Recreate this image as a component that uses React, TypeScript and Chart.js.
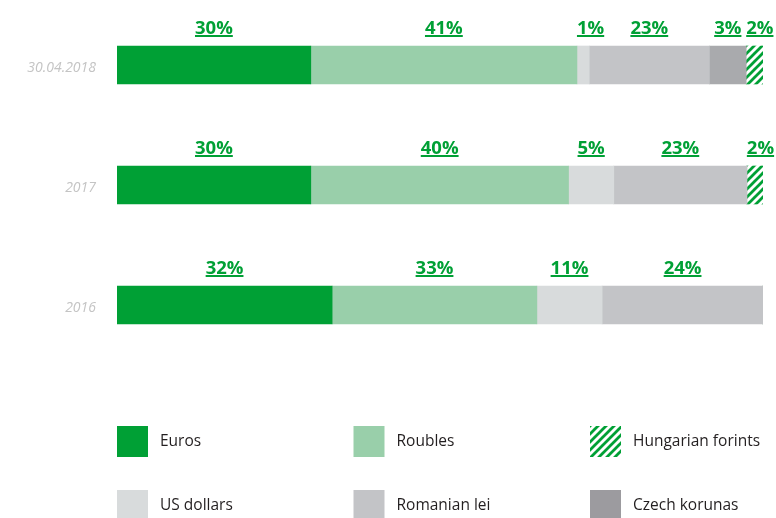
import React, { useEffect, useRef } from "react";
import { Chart, registerables } from "chart.js";

Chart.register(...registerables);

// ---- data ----
const categories = ["30.04.2018", "2017", "2016"];
const seriesNames = ["Euros", "Roubles", "US dollars", "Romanian lei", "Czech korunas", "Hungarian forints"];
// segment lengths as drawn (share of bar width, %)
const euros = [30.0, 30.0, 33.3];
const roubles = [41.2, 39.9, 31.7];
const usDollars = [1.9, 7.0, 10.1];
const romanianLei = [18.6, 20.6, 24.9];
const czechKorunas = [5.7, 0, 0];
const hungarianForints = [2.6, 2.5, 0];
// printed labels (%)
const eurosLabels = [30, 30, 32];
const roublesLabels = [41, 40, 33];
const usDollarsLabels = [1, 5, 11];
const romanianLeiLabels = [23, 23, 24];
const czechKorunasLabels: (number | null)[] = [3, null, null];
const hungarianForintsLabels: (number | null)[] = [2, 2, null];

const GREEN = "#00a035";
const colors = ["#00a035", "#99cfaa", "#d8dbdc", "#c3c4c7", "#a9aaad", "hatch"];
const legendColors = ["#00a035", "#99cfaa", "#d8dbdc", "#c3c4c7", "#9c9b9f", "hatch"];
const legendLayout = [[0, 1, 5], [2, 3, 4]];

function makeHatch(): CanvasPattern | string {
  const c = document.createElement("canvas");
  const s = 8;
  c.width = s;
  c.height = s;
  const g = c.getContext("2d");
  if (!g) return GREEN;
  g.fillStyle = "#ffffff";
  g.fillRect(0, 0, s, s);
  g.strokeStyle = GREEN;
  g.lineWidth = 2.8;
  g.beginPath();
  g.moveTo(-2, s + 2);
  g.lineTo(s + 2, -2);
  g.moveTo(-2, 2);
  g.lineTo(2, -2);
  g.moveTo(s - 2, s + 2);
  g.lineTo(s + 2, s - 2);
  g.stroke();
  const p = g.createPattern(c, "repeat");
  return p || GREEN;
}

export default function App() {
  const ref = useRef<HTMLCanvasElement | null>(null);

  useEffect(() => {
    if (!ref.current) return;
    const hatch = makeHatch();
    const values = [euros, roubles, usDollars, romanianLei, czechKorunas, hungarianForints];
    const labelSets = [eurosLabels, roublesLabels, usDollarsLabels, romanianLeiLabels, czechKorunasLabels, hungarianForintsLabels];
    const fill = (c: string) => (c === "hatch" ? hatch : c);

    const labelPlugin = {
      id: "segLabels",
      afterDatasetsDraw(chart: any) {
        const ctx = chart.ctx;
        ctx.save();
        ctx.font = "bold 18.5px 'Open Sans'";
        ctx.fillStyle = GREEN;
        ctx.textAlign = "center";
        ctx.textBaseline = "alphabetic";
        chart.data.datasets.forEach((_: any, i: number) => {
          const meta = chart.getDatasetMeta(i);
          meta.data.forEach((bar: any, j: number) => {
            const v = labelSets[i][j];
            if (v === null || v === undefined) return;
            const p = bar.getProps(["x", "base", "y", "height"], true);
            const left = Math.min(p.x, p.base);
            const right = Math.max(p.x, p.base);
            const text = v + "%";
            const tw = ctx.measureText(text).width;
            const tx = tw > right - left ? left + tw / 2 : (left + right) / 2;
            const top = p.y - p.height / 2;
            ctx.fillText(text, tx, top - 12.5);
            ctx.fillRect(tx - tw / 2, top - 11, tw, 2);
          });
        });
        ctx.restore();
      },
    };

    const legendPlugin = {
      id: "gridLegend",
      afterDraw(chart: any) {
        const ctx = chart.ctx;
        const left = chart.chartArea.left;
        const colW = 236.5;
        const rowY = [426, 490];
        const sq = 31;
        ctx.save();
        ctx.font = "15.5px 'Open Sans'";
        ctx.fillStyle = "#231f20";
        ctx.textBaseline = "middle";
        legendLayout.forEach((row, r) => {
          row.forEach((di, c) => {
            const x = left + c * colW;
            const y = rowY[r];
            ctx.fillStyle = fill(legendColors[di]) as any;
            ctx.fillRect(x, y, sq, sq);
            ctx.fillStyle = "#231f20";
            ctx.fillText(chart.data.datasets[di].label, x + 43, y + sq / 2);
          });
        });
        ctx.restore();
      },
    };

    const chart = new Chart(ref.current, {
      type: "bar",
      data: {
        labels: categories,
        datasets: seriesNames.map((name, i) => ({
          label: name,
          data: values[i],
          backgroundColor: fill(colors[i]) as any,
          borderWidth: 0,
          barThickness: 38,
        })),
      },
      options: {
        indexAxis: "y",
        animation: false,
        responsive: false,
        layout: { padding: { left: 0, right: 13, top: 5, bottom: 153 } },
        plugins: { legend: { display: false }, tooltip: { enabled: false } },
        scales: {
          x: { stacked: true, min: 0, max: 100, display: false },
          y: {
            stacked: true,
            grid: { display: false, drawTicks: false },
            border: { display: false },
            afterFit: (scale: any) => {
              scale.width = 117;
              scale.paddingTop = 0;
              scale.paddingBottom = 0;
            },
            ticks: {
              padding: 21,
              labelOffset: 3,
              color: "#c4c4c4",
              font: { family: "'Open Sans'", size: 14, style: "italic" },
            },
          },
        },
      },
      plugins: [labelPlugin, legendPlugin],
    });
    return () => chart.destroy();
  }, []);

  return (
    <div style={{ position: "absolute", left: 0, top: 0, width: 776, height: 518, background: "#fff" }}>
      <canvas ref={ref} width={776} height={518} style={{ display: "block" }} />
    </div>
  );
}
